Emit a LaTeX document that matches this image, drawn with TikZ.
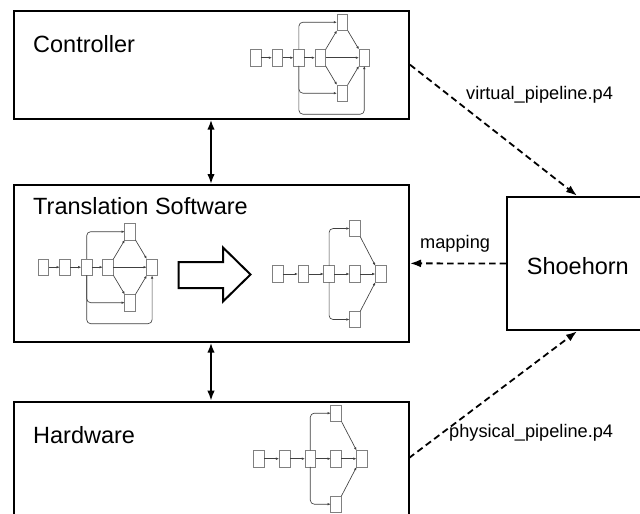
\documentclass[tikz,border=0pt]{standalone}
\usepackage{fontspec}
\setmainfont{Liberation Sans}
\usetikzlibrary{arrows.meta}

\tikzset{
  stage/.style={draw=black, line width=2pt, fill=none, inner sep=0pt},
  title/.style={anchor=base west, inner sep=0pt, font=\fontsize{23.5}{28}\selectfont},
  tag/.style={anchor=base west, inner sep=0pt, font=\fontsize{18.2}{22}\selectfont},
  link/.style={line width=1.8pt, {Latex[length=10pt,width=7.5pt]}-{Latex[length=10pt,width=7.5pt]}},
  feed/.style={line width=1.8pt, dash pattern=on 6.5pt off 4pt, -{Latex[length=11pt,width=8pt]}},
  blk/.style={draw=black!50, line width=0.7pt, fill=white, minimum width=10.7pt, minimum height=16.5pt, inner sep=0pt, outer sep=0pt},
  edge/.style={draw=black!75, line width=0.65pt, rounded corners=4pt, -{Latex[length=3.2pt,width=2.6pt]}},
  % table graph with a loop-back edge and a diamond
  pics/fullgraph/.style={code={
    \node[blk] (-a) at (0,0) {};
    \node[blk] (-b) at (21.8,0) {};
    \node[blk] (-c) at (43.4,0) {};
    \node[blk] (-d) at (64.8,0) {};
    \node[blk] (-f) at (86.8,35.5) {};
    \node[blk] (-g) at (86.8,-35.5) {};
    \node[blk] (-e) at (108.8,0) {};
    \draw[edge] (-a) -- (-b);
    \draw[edge] (-b) -- (-c);
    \draw[edge] (-c) -- (-d);
    \draw[edge] (-d) -- (-e);
    \draw[edge] (-c.north) |- (-f.west);
    \draw[edge] (-c.south) |- (-g.west);
    \draw[edge] (-c.south) -- (-c |- 0,-56.5) -| (-e.south);
    \draw[edge] (-d.north east) -- (-f.south west);
    \draw[edge] (-f.south east) -- (-e.north west);
    \draw[edge] (-d.south east) -- (-g.north west);
    \draw[edge] (-g.north east) -- (-e.south west);
  }},
  % flattened graph without the loop-back edge
  pics/flatgraph/.style={code={
    \node[blk] (-a) at (0,0) {};
    \node[blk] (-b) at (25.8,0) {};
    \node[blk] (-c) at (51.6,0) {};
    \node[blk] (-d) at (77.4,0) {};
    \node[blk] (-f) at (77.4,45.5) {};
    \node[blk] (-g) at (77.4,-45.5) {};
    \node[blk] (-e) at (103.2,0) {};
    \draw[edge] (-a) -- (-b);
    \draw[edge] (-b) -- (-c);
    \draw[edge] (-c) -- (-d);
    \draw[edge] (-d) -- (-e);
    \draw[edge] (-c.north) |- (-f.west);
    \draw[edge] (-c.south) |- (-g.west);
    \draw[edge] (-f.south east) -- (-e.north west);
    \draw[edge] (-g.north east) -- (-e.south west);
  }}
}

\begin{document}
\begin{tikzpicture}[x=1pt,y=1pt]
\useasboundingbox (0,0) rectangle (640,-514);
\clip (0,0) rectangle (640,-514);
\fill[white] (0,0) rectangle (640,-514);

% main blocks
\node[stage, minimum width=394.7pt, minimum height=108pt] (ctrl) at (211.65,-64.7) {};
\node[stage, minimum width=394.7pt, minimum height=156.7pt] (trans) at (211.65,-263.35) {};
\node[stage, minimum width=394.7pt, minimum height=128.3pt] (hw) at (211.65,-465.85) {};
\node[stage, minimum width=140pt, minimum height=133.6pt] (shoe) at (577,-263.5) {};

% block titles
\node[title] (ctrltxt) at (33,-52.7) {Controller};
\node[title] (transtxt) at (33,-214) {Translation Software};
\node[title] (hwtxt) at (33,-443.3) {Hardware};
\node[title] (shoetxt) at (526.7,-274.3) {Shoehorn};

% pipeline graphs
\pic (cg) at (255.5,-57.7) {fullgraph};
\pic (tg) at (43.3,-267.2) {fullgraph};
\pic (rg) at (277.5,-274) {flatgraph};
\pic (hg) at (258.7,-458.7) {flatgraph};

% transformation arrow
\draw[line width=2pt, fill=white, line join=miter]
  (178.5,-262) -- (223,-262) -- (223,-247.5) -- (250.5,-274.5)
  -- (223,-301.5) -- (223,-288) -- (178.5,-288) -- cycle;

% control links
\draw[link] (ctrl.south -| 211,0) -- (trans.north -| 211,0);
\draw[link] (trans.south -| 211,0) -- (hw.north -| 211,0);

% program inputs and mapping output
\coordinate (pstart) at (409,-458);
\draw[feed] (ctrl.east) -- (shoe.north);
\draw[feed] (pstart) -- (shoe.south);
\draw[feed] (shoe.west) -- (trans.east);

\node[tag] (vtag) at (466,-99.3) {virtual\_pipeline.p4};
\node[tag] (mtag) at (420,-248.3) {mapping};
\node[tag] (ptag) at (449,-437.3) {physical\_pipeline.p4};
\end{tikzpicture}
\end{document}
